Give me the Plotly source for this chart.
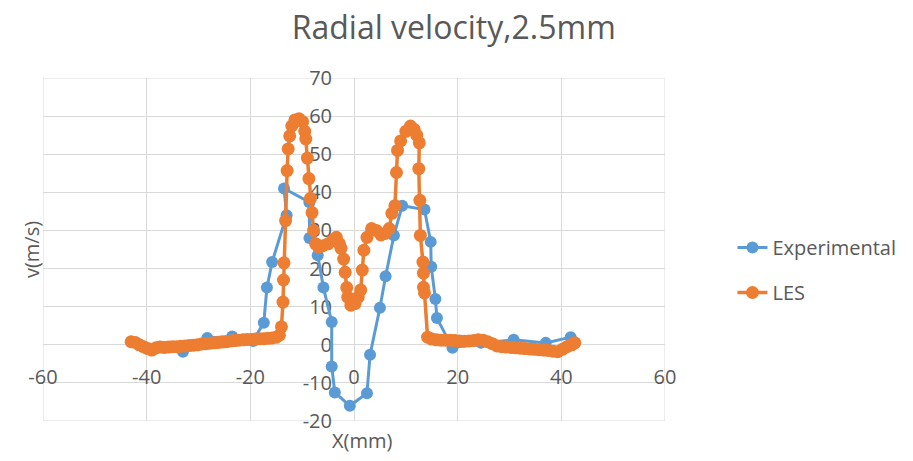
import plotly.graph_objects as go

# Experimental data (x in mm, radial velocity in m/s)
exp_x = [-42.0, -37.5, -33.0, -28.3, -23.5, -19.5, -17.4, -16.8, -15.8, -13.0, -13.5, -8.6, -8.6, -7.0,
         -5.9, -4.3, -4.3, -3.7, -0.8, 2.5, 3.1, 5.0, 6.1, 7.7, 9.3, 13.6, 14.8, 14.9, 15.7, 16.0,
         19.0, 24.5, 30.8, 37.0, 41.8]
exp_v = [0.5, -0.5, -1.8, 1.8, 2.2, 1.0, 5.8, 15.0, 21.7, 34.0, 41.0, 37.4, 28.0, 23.5,
         15.0, 6.0, -5.7, -12.5, -16.0, -12.7, -2.6, 9.7, 18.0, 28.7, 36.5, 35.5, 27.0, 20.5, 12.0, 7.0,
         -0.8, 0.5, 1.3, 0.5, 2.0]

# LES data
les_x = [-43.0, -42.2, -41.4, -40.6, -39.8, -39.0, -38.2, -37.4, -36.6, -35.8, -35.0, -34.2, -33.4,
         -32.6, -31.8, -31.0, -30.2, -29.4, -28.6, -27.8, -27.0, -26.2, -25.4, -24.6, -23.8, -23.0,
         -22.2, -21.4, -20.6, -19.8, -19.0, -18.2, -17.4, -16.6, -15.8, -15.0, -14.4, -14.0, -13.7,
         -13.6, -13.5, -13.2, -12.9, -12.7, -12.4, -12.0, -11.4, -10.6, -9.9, -9.5, -9.3, -9.0, -8.7,
         -8.4, -8.1, -7.8, -7.4, -6.8, -6.0, -5.0, -4.0, -3.4, -2.8, -2.5, -2.0, -1.7, -1.4, -1.2,
         -0.6, 0.2, 0.8, 1.3, 1.6, 1.9, 2.5, 3.4, 4.3, 5.2, 6.0, 6.8, 7.3, 7.9, 8.2, 8.4, 9.0, 10.0,
         10.9, 11.6, 12.1, 12.6, 12.5, 12.7, 12.8, 13.3, 13.4, 13.4, 13.6, 14.2, 15.0, 15.9, 16.8,
         17.7, 18.6, 19.5, 20.4, 21.3, 22.2, 23.1, 24.0, 24.9, 25.8, 26.7, 27.6, 28.5, 29.4, 30.3,
         31.2, 32.1, 33.0, 33.9, 34.8, 35.7, 36.6, 37.5, 38.4, 39.3, 40.2, 41.1, 42.0, 42.6]
les_v = [0.8, 0.6, 0.0, -0.5, -1.0, -1.4, -0.8, -0.6, -0.7, -0.6, -0.5, -0.5, -0.4,
         -0.3, -0.2, -0.1, 0.0, 0.2, 0.3, 0.4, 0.5, 0.6, 0.7, 0.8, 1.0, 1.1,
         1.2, 1.3, 1.4, 1.4, 1.5, 1.6, 1.6, 1.7, 1.8, 2.0, 2.5, 4.7, 11.2,
         17.0, 21.5, 32.6, 45.7, 51.4, 54.8, 57.4, 59.0, 59.3, 58.5, 56.0, 54.0, 49.0, 43.6,
         38.4, 34.7, 30.0, 26.5, 25.6, 26.0, 26.5, 27.5, 28.2, 26.5, 25.3, 22.5, 19.0, 15.0, 12.5,
         10.4, 10.8, 12.5, 14.4, 19.6, 24.8, 28.2, 30.5, 30.0, 28.8, 29.2, 30.5, 34.5, 36.5, 45.2, 51.0,
         53.5, 56.0, 57.4, 56.5, 55.0, 53.0, 46.2, 37.9, 28.7, 21.7, 18.8, 15.1, 13.6, 2.0, 1.5, 1.3,
         1.2, 1.2, 1.2, 1.1, 1.0, 0.9, 1.0, 1.1, 1.3, 1.2, 0.8, 0.3, -0.3, -0.5, -0.6, -0.7,
         -0.8, -0.9, -1.0, -1.1, -1.2, -1.3, -1.4, -1.5, -1.7, -1.8, -1.2, -0.5, 0.0, 0.5, 0.9]

x_ticks = [-60, -40, -20, 0, 20, 40, 60]
x_labels = ["-60", "-40", "-20", "0", "20", "40", "60"]
y_ticks = [-20, -10, 0, 10, 20, 30, 40, 50, 60, 70]
y_labels = ["-20", "-10", "0", "10", "20", "30", "40", "50", "60", "70"]

BLUE = "#5B9BD5"
ORANGE = "#ED7D31"
GRAY = "#595959"
GRID = "#D9D9D9"
FONT = "Open Sans"

fig = go.Figure()
fig.add_trace(go.Scatter(x=exp_x, y=exp_v, mode="lines+markers", name="Experimental",
                         legendgroup="a",
                         line=dict(color=BLUE, width=3),
                         marker=dict(color=BLUE, size=12)))
fig.add_trace(go.Scatter(x=les_x, y=les_v, mode="lines+markers", name="LES",
                         legendgroup="b",
                         line=dict(color=ORANGE, width=3.5),
                         marker=dict(color=ORANGE, size=13)))

x0_frac = (0 - (-20)) / (70 - (-20))

# outer grid lines (plotly skips grid lines at the range edges)
edge_shapes = []
for xv in (x_ticks[0], x_ticks[-1]):
    edge_shapes.append(dict(type="line", xref="x", yref="y", x0=xv, x1=xv, y0=y_ticks[0], y1=y_ticks[-1],
                            line=dict(color=GRID, width=1), layer="below"))
for yv in (y_ticks[0], y_ticks[-1]):
    edge_shapes.append(dict(type="line", xref="x", yref="y", x0=x_ticks[0], x1=x_ticks[-1], y0=yv, y1=yv,
                            line=dict(color=GRID, width=1), layer="below"))

fig.update_layout(
    width=913, height=461,
    margin=dict(l=43, r=243, t=78, b=40),
    paper_bgcolor="white", plot_bgcolor="white",
    font=dict(family=FONT, color=GRAY, size=20),
    title=dict(text="Radial velocity,2.5mm", x=0.497, xref="container", xanchor="center",
               y=1 - 28 / 461, yref="container", yanchor="middle",
               font=dict(family=FONT, size=32, color=GRAY)),
    xaxis=dict(range=[-60, 60], tickvals=x_ticks, ticktext=x_labels, showgrid=True, gridcolor=GRID,
               gridwidth=1, zeroline=False, showline=False, ticks="", anchor="free", position=x0_frac,
               ticklabelstandoff=18, layer="below traces",
               tickfont=dict(family=FONT, size=20, color=GRAY)),
    yaxis=dict(range=[-20, 70], tickvals=y_ticks, ticktext=y_labels, showgrid=True, gridcolor=GRID,
               gridwidth=1, zeroline=False, showline=False, ticks="", anchor="free", position=0.5,
               ticklabelstandoff=22, layer="below traces",
               tickfont=dict(family=FONT, size=20, color=GRAY)),
    legend=dict(x=(738 - 43) / 627, xanchor="left", y=(421 - 270) / 343, yanchor="middle",
                font=dict(family=FONT, size=20, color=GRAY), tracegroupgap=16,
                bgcolor="rgba(0,0,0,0)"),
    shapes=edge_shapes,
    annotations=[
        dict(text="X(mm)", xref="paper", yref="paper", x=(365 - 43) / 627, y=(421 - 440) / 343,
             xanchor="center", yanchor="middle", showarrow=False,
             font=dict(family=FONT, size=20, color=GRAY)),
        dict(text="v(m/s)", xref="paper", yref="paper", x=(31 - 43) / 627, y=(421 - 250) / 343,
             xanchor="center", yanchor="middle", showarrow=False, textangle=-90,
             font=dict(family=FONT, size=20, color=GRAY)),
    ],
)

fig.write_html("out.html")
